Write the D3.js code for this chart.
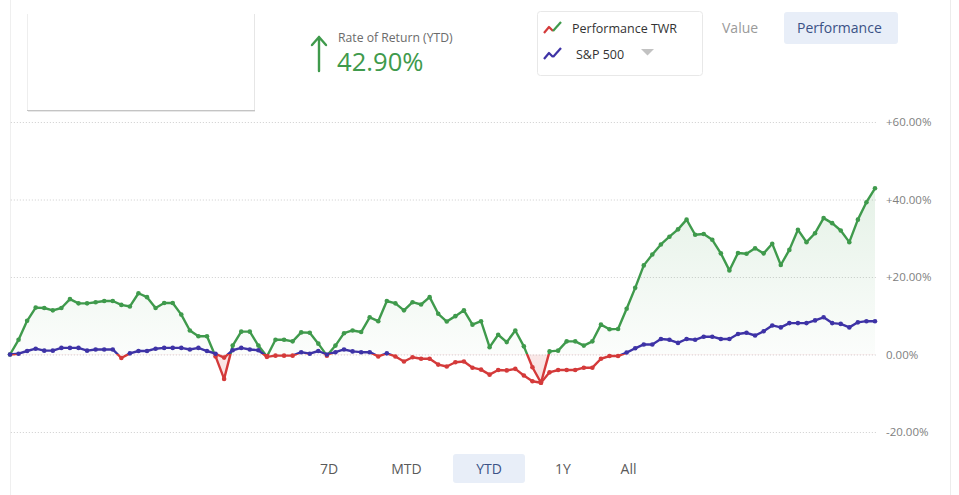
<!DOCTYPE html>
<html><head><meta charset="utf-8">
<script src="https://cdn.jsdelivr.net/npm/d3@7"></script>
<style>
html,body{margin:0;padding:0;background:#fff;}
svg{display:block;font-family:"Open Sans",sans-serif;}
</style></head><body>
<svg id="c" width="959" height="495"></svg>
<script>
// ---- data ----
const twr = [0,3.8,8.7,12.1,12.0,11.4,12.0,14.3,13.2,13.2,13.5,13.8,13.8,12.8,12.4,15.8,14.8,12.0,13.3,13.3,
  10.3,6.2,4.7,4.7,-0.5,-6.3,2.3,5.9,5.9,2.3,-0.5,3.8,3.8,3.4,5.7,5.6,2.8,-0.3,2.3,5.5,
  6.2,5.8,9.6,8.6,13.8,13.2,11.4,13.5,12.9,14.8,10.5,8.5,9.9,11.4,7.7,8.6,1.9,5.1,3.2,6.2,
  2.1,-3.3,-7.3,0.8,1.0,3.4,3.4,2.3,3.4,7.7,6.5,6.6,11.8,17.2,23.0,25.8,28.4,30.4,32.3,34.8,
  30.9,31.1,29.6,26.1,21.7,26.2,26.0,27.4,26.1,28.6,23.1,27.0,32.2,29.0,31.3,35.2,33.9,32.0,29.0,34.8,
  39.3,42.9];
const sp500 = [0,0.2,0.9,1.5,1.0,1.0,1.7,1.7,1.7,1.0,1.3,1.3,1.3,-0.9,0.3,0.9,0.9,1.5,1.7,1.7,
  1.7,1.3,1.7,0.9,0.2,-0.8,1.1,1.7,1.3,1.1,-0.6,-0.3,-0.3,-0.3,0.6,0.2,0.9,0,0.6,1.3,
  0.8,0.6,0.6,-0.5,0.3,-0.5,-1.8,-0.7,-1.1,-1.1,-2.6,-3.1,-2.0,-1.8,-3.4,-3.9,-5.2,-4.0,-4.1,-3.7,
  -5.4,-6.9,-7.3,-4.6,-4.0,-4.0,-4.0,-3.4,-3.4,-1.1,-0.4,-0.4,0.5,1.6,2.6,2.6,4.0,3.8,3.0,4.0,
  3.8,4.6,4.6,4.0,4.0,5.3,5.6,4.9,6.0,7.5,7.0,8.1,8.1,8.1,8.8,9.6,8.1,7.9,7.0,8.3,
  8.6,8.6];
const yTicks = [-20,0,20,40,60];
const periods = ["7D","MTD","YTD","1Y","All"];
const selectedPeriod = "YTD";
const viewModes = ["Value","Performance"];
const selectedMode = "Performance";
const legendItems = ["Performance TWR","S&P 500"];
const headlineLabel = "Rate of Return (YTD)";
const headlineValue = "42.90%";

// ---- colours ----
const GREEN = "#3f9a4c", RED = "#d43a3a", PURPLE = "#3e33a6";

const svg = d3.select("#c");
const defs = svg.append("defs");

const x = d3.scaleLinear().domain([0, twr.length - 1]).range([10, 875]);
const y = d3.scaleLinear().domain([-20, 60]).range([432, 122]);

// frame lines
svg.append("line").attr("x1",10.5).attr("x2",10.5).attr("y1",0).attr("y2",495).attr("stroke","#efefef");
svg.append("line").attr("x1",950.5).attr("x2",950.5).attr("y1",0).attr("y2",495).attr("stroke","#ececec");

// top-left card
svg.append("rect").attr("x",27).attr("y",10).attr("width",228).attr("height",100).attr("fill","#fff");
svg.append("line").attr("x1",27.5).attr("x2",27.5).attr("y1",14).attr("y2",110).attr("stroke","#eeeeee");
svg.append("line").attr("x1",254.5).attr("x2",254.5).attr("y1",14).attr("y2",110).attr("stroke","#e6e6e6");
svg.append("line").attr("x1",27).attr("x2",255).attr("y1",110.5).attr("y2",110.5).attr("stroke","#c4c4c4");
svg.append("line").attr("x1",28).attr("x2",255).attr("y1",111.5).attr("y2",111.5).attr("stroke","#e8e8e8");

// headline
svg.append("path").attr("d","M319,71 L319,37 M312,45 L319,37 L326,45")
  .attr("fill","none").attr("stroke",GREEN).attr("stroke-width",2.4).attr("stroke-linecap","round").attr("stroke-linejoin","round");
svg.append("text").attr("x",338).attr("y",42).attr("font-size",12.2).attr("fill","#6b6b6b").text(headlineLabel);
svg.append("text").attr("x",337).attr("y",71).attr("font-size",25.6).attr("fill",GREEN).text(headlineValue);

// legend box
svg.append("rect").attr("x",537.5).attr("y",11.5).attr("width",165).attr("height",64).attr("rx",3)
  .attr("fill","#fff").attr("stroke","#e8e8e8");
function zig(g, x0, y0, c1, c2){
  g.append("path").attr("d",`M${x0},${y0+11} L${x0+5},${y0+5} L${x0+9},${y0+9}`)
    .attr("fill","none").attr("stroke",c1).attr("stroke-width",2.2).attr("stroke-linejoin","round");
  g.append("path").attr("d",`M${x0+9},${y0+9} L${x0+17},${y0}`)
    .attr("fill","none").attr("stroke",c2).attr("stroke-width",2.2).attr("stroke-linejoin","round");
}
const lg = svg.append("g");
zig(lg, 544, 22, RED, GREEN);
zig(lg, 544, 48, PURPLE, PURPLE);
lg.append("text").attr("x",572).attr("y",33).attr("font-size",12.5).attr("fill","#333").text(legendItems[0]);
lg.append("text").attr("x",576).attr("y",59).attr("font-size",12.5).attr("fill","#333").text(legendItems[1]);
lg.append("path").attr("d","M641,49 L654,49 L647.5,55.5 Z").attr("fill","#c2c2c2");

// view mode toggle
svg.append("rect").attr("x",784).attr("y",12).attr("width",114).attr("height",32).attr("rx",3).attr("fill","#e8eef8");
svg.append("text").attr("x",722).attr("y",33).attr("font-size",14).attr("fill","#9a9a9a").text(viewModes[0]);
svg.append("text").attr("x",797).attr("y",33).attr("font-size",14).attr("fill","#3b5286").text(viewModes[1]);

// gridlines + y labels via axis
const fmt = v => v === 0 ? "0.00%" : (v > 0 ? "+" : "-") + Math.abs(v).toFixed(2) + "%";
const ax = svg.append("g").attr("transform","translate(876,0)")
  .call(d3.axisRight(y).tickValues(yTicks).tickSize(-866).tickPadding(10).tickFormat(fmt));
ax.select(".domain").remove();
ax.selectAll(".tick line").attr("stroke","#d6d6d6").attr("stroke-dasharray","1.2,1.8");
ax.selectAll(".tick text").attr("fill","#808080").attr("font-size",11.5).attr("font-family","Open Sans, sans-serif");

// gradients
const frac = (y(0) - y(60)) / (y(-20) - y(60));
function strokeGrad(id, above){
  const g = defs.append("linearGradient").attr("id",id).attr("gradientUnits","userSpaceOnUse")
    .attr("x1",0).attr("x2",0).attr("y1",y(60)).attr("y2",y(-20));
  g.append("stop").attr("offset",0).attr("stop-color",above);
  g.append("stop").attr("offset",frac).attr("stop-color",above);
  g.append("stop").attr("offset",frac).attr("stop-color",RED);
  g.append("stop").attr("offset",1).attr("stop-color",RED);
}
strokeGrad("gTwr", GREEN);
strokeGrad("gSp", PURPLE);
const fg = defs.append("linearGradient").attr("id","gFill").attr("gradientUnits","userSpaceOnUse")
  .attr("x1",0).attr("x2",0).attr("y1",y(45)).attr("y2",y(-20));
const f0 = (y(0) - y(45)) / (y(-20) - y(45));
fg.append("stop").attr("offset",0).attr("stop-color",GREEN).attr("stop-opacity",0.14);
fg.append("stop").attr("offset",f0).attr("stop-color",GREEN).attr("stop-opacity",0.02);
fg.append("stop").attr("offset",f0).attr("stop-color",RED).attr("stop-opacity",0.12);
fg.append("stop").attr("offset",1).attr("stop-color",RED).attr("stop-opacity",0.2);

// area for TWR
const area = d3.area().x((d,i)=>x(i)).y0(y(0)).y1(d=>y(d));
svg.append("path").datum(twr).attr("d",area).attr("fill","url(#gFill)");

const line = d3.line().x((d,i)=>x(i)).y(d=>y(d));
function series(data, grad, above){
  const g = svg.append("g");
  g.append("path").datum(data).attr("d",line).attr("fill","none")
    .attr("stroke",`url(#${grad})`).attr("stroke-width",2.4).attr("stroke-linejoin","round");
  g.selectAll("circle").data(data).join("circle")
    .attr("cx",(d,i)=>x(i)).attr("cy",d=>y(d)).attr("r",2.3)
    .attr("fill",d=> d < 0 ? RED : above);
}
series(twr, "gTwr", GREEN);
series(sp500, "gSp", PURPLE);

// period buttons
const px = d3.scaleOrdinal().domain(periods).range([329, 406.5, 489, 563, 628.5]);
const pg = svg.append("g").attr("font-size",14);
pg.append("rect").attr("x",px(selectedPeriod)-36).attr("y",454).attr("width",72).attr("height",29)
  .attr("rx",3).attr("fill","#e8eef8");
pg.selectAll("text").data(periods).join("text")
  .attr("x",d=>px(d)).attr("y",474).attr("text-anchor","middle")
  .attr("fill",d=> d === selectedPeriod ? "#3b5286" : "#5a5a5a")
  .text(d=>d);
</script>
</body></html>
